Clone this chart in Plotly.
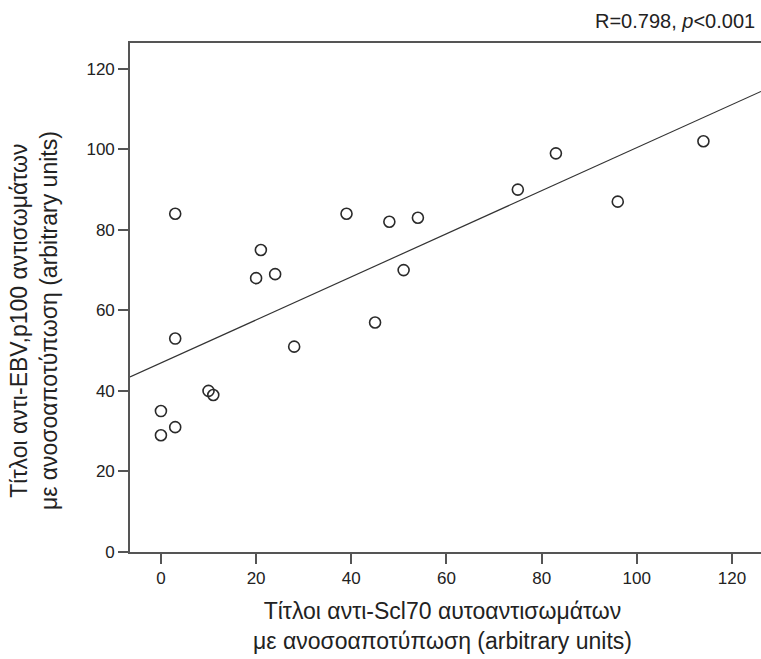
import numpy as np
import plotly.graph_objects as go

# Data
scl70 = [3, 3, 0, 0, 3, 10, 11, 21, 20, 24, 28, 39, 45, 48, 54, 51, 75, 83, 96, 114]
ebv_p100 = [84, 53, 35, 29, 31, 40, 39, 75, 68, 69, 51, 84, 57, 82, 83, 70, 90, 99, 87, 102]
x_ticks = [0, 20, 40, 60, 80, 100, 120]
y_ticks = [0, 20, 40, 60, 80, 100, 120]
x_range = [-6.5, 126.1]
y_range = [0, 126.4]

stat_text = "R=0.798, <i>p</i>&lt;0.001"
x_title = "Τίτλοι αντι-Scl70 αυτοαντισωμάτων<br>με ανοσοαποτύπωση (arbitrary units)"
y_title = "Τίτλοι αντι-EBV,p100 αντισωμάτων<br>με ανοσοαποτύπωση (arbitrary units)"

# Linear regression from data
slope, intercept = np.polyfit(np.array(scl70, float), np.array(ebv_p100, float), 1)
fit_x = np.array(x_range)
fit_y = slope * fit_x + intercept

FONT = "Liberation Sans, Arial, sans-serif"
INK = "#222222"

fig = go.Figure()
fig.add_trace(go.Scatter(
    x=fit_x, y=fit_y, mode="lines",
    line=dict(color="#333333", width=1.2),
    hoverinfo="skip", showlegend=False,
))
fig.add_trace(go.Scatter(
    x=scl70, y=ebv_p100, mode="markers",
    marker=dict(symbol="circle-open", size=11, color="#2a2a2a",
                line=dict(width=1.6, color="#2a2a2a")),
    showlegend=False, cliponaxis=False,
))

fig.update_layout(
    width=761, height=659,
    margin=dict(l=130, r=0, t=43, b=107),
    paper_bgcolor="white", plot_bgcolor="white",
    font=dict(family=FONT, color=INK, size=17),
    xaxis=dict(
        range=x_range, tickvals=x_ticks, ticktext=[str(v) for v in x_ticks],
        showgrid=False, zeroline=False,
        showline=True, linecolor="#555555", linewidth=1.6, mirror=True,
        ticks="outside", ticklen=10, tickwidth=1.6, tickcolor="#555555",
        tickfont=dict(size=17, color=INK, family=FONT),
    ),
    yaxis=dict(
        range=y_range, tickvals=y_ticks, ticktext=[str(v) for v in y_ticks],
        showgrid=False, zeroline=False,
        showline=True, linecolor="#555555", linewidth=1.6,
        ticks="outside", ticklen=10, tickwidth=1.6, tickcolor="#555555",
        tickfont=dict(size=17, color=INK, family=FONT),
    ),
    annotations=[
        dict(text=stat_text, xref="paper", yref="paper", x=0.9937, y=1.043,
             xanchor="right", yanchor="middle", showarrow=False,
             font=dict(size=20, color=INK, family=FONT)),
        dict(text=x_title, xref="paper", yref="paper", x=0.496, y=-0.145,
             xanchor="center", yanchor="middle", showarrow=False,
             font=dict(size=23, color=INK, family=FONT)),
        dict(text=y_title, xref="paper", yref="paper", x=-0.151, y=0.455,
             xanchor="center", yanchor="middle", showarrow=False, textangle=-90,
             font=dict(size=23, color=INK, family=FONT)),
    ],
)

fig.write_html("out.html")
